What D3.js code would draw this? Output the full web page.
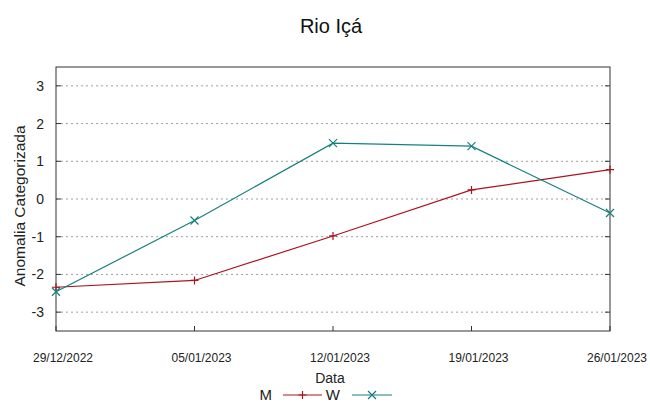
<!DOCTYPE html>
<html><head><meta charset="utf-8">
<script src="https://cdn.jsdelivr.net/npm/d3@7"></script>
<style>body{margin:0;background:#fff}svg{display:block;font-family:"Liberation Sans",Arial,sans-serif}</style>
</head><body>
<svg id="c" width="650" height="403"></svg>
<script>
const dates = ["29/12/2022","05/01/2023","12/01/2023","19/01/2023","26/01/2023"];
const seriesM = [-2.34, -2.16, -0.98, 0.24, 0.78];
const seriesW = [-2.46, -0.57, 1.48, 1.40, -0.37];
const yTicks = [-3,-2,-1,0,1,2,3];
const seriesNames = ["M","W"];
const colors = ["#a8141f","#17807f"];

const svg = d3.select("#c");
const L=56, R=610, T=67, B=331;
const parse = d3.timeParse("%d/%m/%Y");
const xd = dates.map(parse);
const x = d3.scaleTime().domain([xd[0], xd[xd.length-1]]).range([L,R]);
const y = d3.scaleLinear().domain([-3.5,3.5]).range([B,T]);

// grid
svg.append("g").selectAll("line").data(yTicks).join("line")
  .attr("x1",L).attr("x2",R).attr("y1",d=>y(d)).attr("y2",d=>y(d))
  .attr("stroke","#a0a0a0").attr("stroke-width",1).attr("stroke-dasharray","2,3");

// frame
svg.append("rect").attr("x",L).attr("y",T).attr("width",R-L).attr("height",B-T)
  .attr("fill","none").attr("stroke","#333").attr("stroke-width",1);

// y ticks (inward both sides)
const gy = svg.append("g");
yTicks.forEach(v=>{
  gy.append("line").attr("x1",L).attr("x2",L+5).attr("y1",y(v)).attr("y2",y(v)).attr("stroke","#333");
  gy.append("line").attr("x1",R-5).attr("x2",R).attr("y1",y(v)).attr("y2",y(v)).attr("stroke","#333");
  gy.append("text").attr("x",44).attr("y",y(v)+5).attr("text-anchor","end")
    .attr("font-size",14).attr("fill","#222").text(v);
});
// x ticks
const gx = svg.append("g");
xd.forEach((d,i)=>{
  gx.append("line").attr("x1",x(d)).attr("x2",x(d)).attr("y1",B).attr("y2",B-5).attr("stroke","#333");
  gx.append("text").attr("x",x(d)+7).attr("y",362).attr("text-anchor","middle")
    .attr("font-size",12).attr("fill","#222").text(dates[i]);
});

// lines
const line = d3.line().x((d,i)=>x(xd[i])).y(d=>y(d));
[seriesM, seriesW].forEach((s,k)=>{
  svg.append("path").datum(s).attr("d",line).attr("fill","none")
    .attr("stroke",colors[k]).attr("stroke-width",1.2);
  const g = svg.append("g");
  s.forEach((v,i)=>{
    const cx=x(xd[i]), cy=y(v);
    if(k===0){
      g.append("path").attr("d",`M${cx-4},${cy}H${cx+4}M${cx},${cy-4}V${cy+4}`).attr("stroke",colors[k]).attr("stroke-width",1.2);
    } else {
      g.append("path").attr("d",`M${cx-4},${cy-4}L${cx+4},${cy+4}M${cx-4},${cy+4}L${cx+4},${cy-4}`).attr("stroke",colors[k]).attr("stroke-width",1.2);
    }
  });
});

// title and labels
svg.append("text").attr("x",331).attr("y",33).attr("text-anchor","middle").attr("font-size",20).attr("fill","#111").text("Rio Içá");
svg.append("text").attr("x",330).attr("y",383).attr("text-anchor","middle").attr("font-size",14).attr("fill","#222").text("Data");
svg.append("text").attr("transform","translate(25,206) rotate(-90)").attr("text-anchor","middle").attr("font-size",15.5).attr("fill","#222").text("Anomalia Categorizada");

// legend
const leg = [{t:seriesNames[0],tx:272,x1:283,x2:322},{t:seriesNames[1],tx:340,x1:352,x2:392}];
leg.forEach((e,k)=>{
  svg.append("text").attr("x",e.tx).attr("y",400).attr("text-anchor","end").attr("font-size",15).attr("fill","#222").text(e.t);
  svg.append("line").attr("x1",e.x1).attr("x2",e.x2).attr("y1",395).attr("y2",395).attr("stroke",colors[k]).attr("stroke-width",1.2);
  const cx=(e.x1+e.x2)/2, cy=395;
  const d = k===0 ? `M${cx-4},${cy}H${cx+4}M${cx},${cy-4}V${cy+4}` : `M${cx-4},${cy-4}L${cx+4},${cy+4}M${cx-4},${cy+4}L${cx+4},${cy-4}`;
  svg.append("path").attr("d",d).attr("stroke",colors[k]).attr("stroke-width",1.2);
});
</script>
</body></html>
